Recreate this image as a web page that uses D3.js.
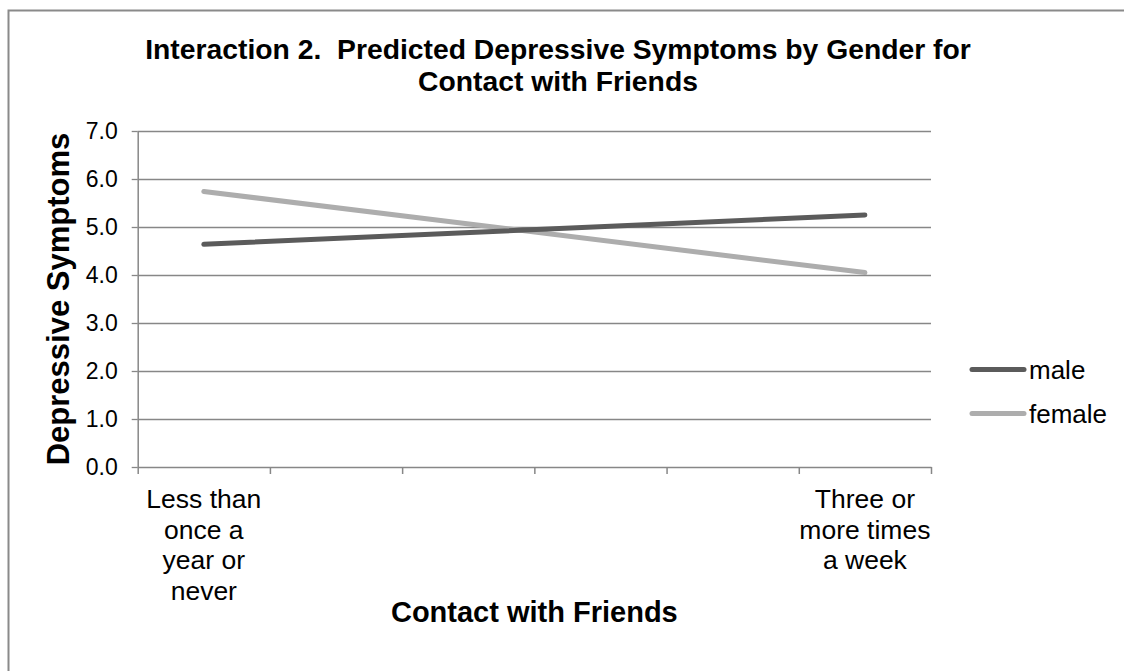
<!DOCTYPE html>
<html>
<head>
<meta charset="utf-8">
<script src="https://cdn.jsdelivr.net/npm/d3@7"></script>
<style>
  html, body { margin: 0; padding: 0; background: #fff; }
  svg { display: block; font-family: "Liberation Sans", Arial, sans-serif; }
</style>
</head>
<body>
<svg id="chart" width="1124" height="671"></svg>
<script>
// Category axis: six contact levels, only the extremes carry labels
const categoryLabels = [
  ["Less than", "once a", "year or", "never"],
  [], [], [], [],
  ["Three or", "more times", "a week"]
];
// Predicted scores at the lowest and highest contact levels
const maleValues   = [4.64, null, null, null, null, 5.25];
const femaleValues = [5.74, null, null, null, null, 4.05];
const seriesNames  = ["male", "female"];
const yTicks = [0, 1, 2, 3, 4, 5, 6, 7];

const svg = d3.select("#chart");
const plot = { left: 137.7, right: 931, top: 131, bottom: 467 };

const x = d3.scaleBand()
  .domain(d3.range(categoryLabels.length))
  .range([plot.left, plot.right]);
const xEdge = d3.scaleLinear()
  .domain([0, categoryLabels.length])
  .range([plot.left, plot.right]);
const y = d3.scaleLinear().domain([0, 7]).range([plot.bottom, plot.top]);

const grid = "#878787";

// outer chart frame
svg.append("rect")
  .attr("x", 8.5).attr("y", 10.5)
  .attr("width", 1140).attr("height", 700)
  .attr("fill", "none").attr("stroke", "#8a8a8a").attr("stroke-width", 2);

// horizontal gridlines
svg.append("g").selectAll("line")
  .data(yTicks.filter(d => d > 0))
  .join("line")
  .attr("x1", plot.left).attr("x2", plot.right)
  .attr("y1", d => Math.round(y(d)) + 0.5).attr("y2", d => Math.round(y(d)) + 0.5)
  .attr("stroke", grid).attr("stroke-width", 1.3);

// y axis
const yAxis = svg.append("g")
  .attr("transform", `translate(${plot.left},0)`)
  .call(d3.axisLeft(y).tickValues(yTicks).tickFormat(d3.format(".1f"))
    .tickSizeInner(6).tickSizeOuter(0).tickPadding(14));
yAxis.select(".domain").attr("stroke", grid).attr("stroke-width", 1.5);
yAxis.selectAll(".tick line").attr("stroke", grid).attr("stroke-width", 1.3);
yAxis.selectAll(".tick text")
  .attr("font-size", 23).attr("fill", "#000")
  .attr("font-family", "Liberation Sans, Arial, sans-serif");

// x axis with ticks at category boundaries
const xAxis = svg.append("g")
  .attr("transform", `translate(0,${plot.bottom})`)
  .call(d3.axisBottom(xEdge).tickValues(d3.range(categoryLabels.length + 1))
    .tickFormat("").tickSizeInner(7).tickSizeOuter(0));
xAxis.select(".domain").attr("stroke", grid).attr("stroke-width", 1.5);
xAxis.selectAll(".tick line").attr("stroke", grid).attr("stroke-width", 1.5);

// category labels
const catG = svg.append("g");
categoryLabels.forEach((lines, i) => {
  const t = catG.append("text")
    .attr("text-anchor", "middle")
    .attr("font-size", 26.5).attr("fill", "#000");
  lines.forEach((ln, j) => {
    t.append("tspan")
      .attr("x", x(i) + x.bandwidth() / 2)
      .attr("y", 508 + j * 30.5)
      .text(ln);
  });
});

// series lines
const series = [
  { name: seriesNames[0], values: maleValues, color: "#5b5b5b" },
  { name: seriesNames[1], values: femaleValues, color: "#adadad" }
];
const line = d3.line()
  .x(d => x(d.i) + x.bandwidth() / 2)
  .y(d => y(d.v));

// female drawn first so the darker male line sits on top
[series[1], series[0]].forEach(s => {
  const pts = s.values.map((v, i) => ({ i, v })).filter(d => d.v != null);
  svg.append("path")
    .datum(pts)
    .attr("d", line)
    .attr("fill", "none")
    .attr("stroke", s.color)
    .attr("stroke-width", 5)
    .attr("stroke-linecap", "round");
});

// legend
const legend = svg.append("g");
series.forEach((s, i) => {
  const cy = 369.5 + i * 44;
  legend.append("line")
    .attr("x1", 972).attr("x2", 1024)
    .attr("y1", cy).attr("y2", cy)
    .attr("stroke", s.color).attr("stroke-width", 5)
    .attr("stroke-linecap", "round");
  legend.append("text")
    .attr("x", 1029).attr("y", cy + 9.5)
    .attr("font-size", 26).attr("fill", "#000")
    .text(s.name);
});

// chart title
const title = svg.append("text")
  .attr("text-anchor", "middle")
  .attr("xml:space", "preserve")
  .attr("font-size", 28.3).attr("font-weight", "bold").attr("fill", "#000");
["Interaction 2.  Predicted Depressive Symptoms by Gender for", "Contact with Friends"]
  .forEach((ln, j) => {
    title.append("tspan")
      .attr("x", 558).attr("y", 59 + j * 32)
      .text(ln);
  });

// axis titles
svg.append("text")
  .attr("x", (plot.left + plot.right) / 2).attr("y", 622)
  .attr("text-anchor", "middle")
  .attr("font-size", 29).attr("font-weight", "bold").attr("fill", "#000")
  .text("Contact with Friends");

svg.append("text")
  .attr("transform", `translate(69,${(plot.top + plot.bottom) / 2}) rotate(-90)`)
  .attr("text-anchor", "middle")
  .attr("font-size", 31).attr("font-weight", "bold").attr("fill", "#000")
  .text("Depressive Symptoms");
</script>
</body>
</html>
